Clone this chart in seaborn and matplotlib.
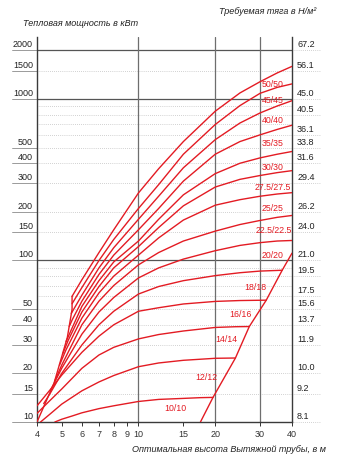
import matplotlib
matplotlib.use("Agg")
import matplotlib.pyplot as plt
import matplotlib.transforms as mtransforms
import seaborn as sns
import pandas as pd

# ---------------- data ----------------
sizes = ["10/10", "12/12", "14/14", "16/16", "18/18", "20/20", "22.5/22.5",
         "25/25", "27.5/27.5", "30/30", "35/35", "40/40", "45/45", "50/50"]

h_10 = [4.7, 5, 5.5, 6, 7, 8, 10, 12, 15, 17.5, 19.6]
p_10 = [10, 10.4, 10.9, 11.4, 12.1, 12.6, 13.4, 13.8, 14.0, 14.15, 14.2]
h_12 = [4.13, 4.5, 5, 6, 7, 8, 10, 12, 15, 20, 24.0]
p_12 = [10, 11.2, 12.9, 15.6, 17.7, 19.4, 22, 23.2, 24.1, 24.8, 24.9]
h_14 = [4, 4.5, 5, 6, 7, 8, 10, 12, 15, 20, 24, 27.2]
p_14 = [11.3, 13.6, 16, 21.5, 26, 29, 32.7, 34.8, 36.6, 38.5, 38.9, 39.0]
h_16 = [4, 4.5, 5, 6, 7, 8, 10, 12, 15, 20, 25, 31.7]
p_16 = [12.6, 15.8, 19.5, 27, 34, 40, 48.5, 51, 53.8, 55.8, 56.5, 56.8]
h_18 = [4.25, 4.5, 5, 6, 7, 8, 10, 12, 15, 20, 25, 30, 36.6]
p_18 = [13, 15, 20, 30, 40, 48.5, 62, 69, 75, 80.6, 84, 86, 87]
h_20 = [4.5, 5, 6, 7, 8, 10, 12, 15, 20, 25, 30, 35, 40]
p_20 = [15.5, 21.5, 35, 48, 59, 78, 90, 102, 115, 124, 129, 132, 133]
h_225 = [4.7, 5, 6, 7, 8, 10, 12, 15, 20, 25, 30, 35, 40]
p_225 = [18, 22.5, 40, 56, 70, 94, 112, 132, 152, 167, 177, 185, 190]
h_25 = [4.9, 5.2, 6, 7, 8, 10, 12, 15, 20, 25, 30, 35, 40]
p_25 = [22.5, 28, 44, 63, 80, 108, 138, 178, 220, 238, 250, 258, 263]
h_275 = [5.05, 5.3, 6, 7, 8, 10, 12, 15, 20, 25, 30, 35, 40]
p_275 = [26.5, 32, 48, 69, 90, 122, 160, 218, 285, 318, 336, 350, 360]
h_30 = [5.2, 5.4, 6, 7, 8, 10, 12, 15, 20, 25, 30, 35, 40]
p_30 = [31.5, 36, 52, 75, 98, 132, 180, 255, 345, 400, 432, 455, 473]
h_35 = [5.35, 5.5, 6, 7, 8, 10, 12, 15, 20, 25, 30, 35, 40]
p_35 = [39, 43, 56, 82, 108, 155, 210, 310, 455, 545, 600, 648, 688]
h_40 = [5.45, 6, 7, 8, 10, 12, 15, 20, 25, 30, 35, 40]
p_40 = [47, 61, 90, 120, 180, 250, 375, 560, 710, 820, 905, 976]
h_45 = [5.49, 6, 7, 8, 10, 12, 15, 20, 25, 30, 35, 40]
p_45 = [54, 68, 100, 135, 210, 295, 455, 695, 910, 1085, 1180, 1240]
h_50 = [5.49, 6, 7, 8, 10, 12, 15, 20, 25, 30, 35, 40]
p_50 = [60, 76, 112, 155, 262, 370, 545, 840, 1090, 1280, 1450, 1592]

curve_h = [h_10, h_12, h_14, h_16, h_18, h_20, h_225, h_25, h_275, h_30, h_35, h_40, h_45, h_50]
curve_p = [p_10, p_12, p_14, p_16, p_18, p_20, p_225, p_25, p_275, p_30, p_35, p_40, p_45, p_50]

# boundary lines
left_bound_h = [4.0, 4.66, 5.26, 5.49, 5.49]
left_bound_p = [10, 17.3, 33.4, 49.8, 60]
right_bound_h = [17.5, 19.6, 24.0, 27.2, 31.7, 36.6, 40]
right_bound_p = [10, 14.2, 24.9, 39.0, 56.8, 87, 111]

# curve label positions
label_h = [13.9, 18.4, 22.1, 25.2, 28.8, 33.6, 34.0, 33.6, 33.6, 33.6, 33.6, 33.6, 33.6, 33.6]
label_p = [12.2, 18.8, 32.2, 46.5, 68.3, 107, 154, 210, 283, 376, 529, 739, 975, 1236]

# axis labels
x_ticks = [4, 5, 6, 7, 8, 9, 10, 15, 20, 30, 40]
left_levels = [2000, 1500, 1000, 500, 400, 300, 200, 150, 100, 50, 40, 30, 20, 15, 10]
right_levels = [2000, 1500, 1000, 800, 600, 500, 400, 300, 200, 150, 100, 80, 60, 50, 40, 30, 20, 15, 10]
right_labels = ["67.2", "56.1", "45.0", "40.5", "36.1", "33.8", "31.6", "29.4", "26.2", "24.0",
                "21.0", "19.5", "17.5", "15.6", "13.7", "11.9", "10.0", "9.2", "8.1"]
solid_levels = [2000, 1000, 100]
dotted_levels = [1500, 900, 800, 700, 600, 500, 400, 300, 200, 150,
                 90, 80, 70, 60, 50, 40, 30, 20, 15]
v_lines = [10, 20, 30]

# ---------------- figure ----------------
sns.set_theme(style="white")
plt.rcParams['font.family'] = ['Liberation Sans', 'DejaVu Sans']

RED = "#e31b23"
W, H = 342, 459
fig = plt.figure(figsize=(W / 100, H / 100), dpi=100)
L, R, B, T = 37, 292, 422, 37
ax = fig.add_axes([L / W, 1 - B / H, (R - L) / W, (B - T) / H])
ax.set_xscale("log")
ax.set_yscale("log")
ax.set_xlim(4, 40)
ax.set_ylim(10, 2420)

# grid
for lv in dotted_levels:
    ax.axhline(lv, color="#a8a8a8", lw=0.5, ls=(0, (1, 2)), zorder=1)
for lv in solid_levels:
    ax.axhline(lv, color="#555555", lw=0.9, zorder=1)
for xv in v_lines:
    ax.axvline(xv, color="#6e6e6e", lw=0.9, zorder=1)

# curves
rows = []
for s, hs, ps in zip(sizes, curve_h, curve_p):
    for h, p in zip(hs, ps):
        rows.append({"size": s, "height": h, "power": p})
df = pd.DataFrame(rows)
sns.lineplot(data=df, x="height", y="power", hue="size", units="size", estimator=None,
             sort=False, palette=[RED] * len(sizes), legend=False, lw=1.0, ax=ax, zorder=3)
bdf = pd.DataFrame({"height": left_bound_h + right_bound_h,
                    "power": left_bound_p + right_bound_p,
                    "part": ["left"] * len(left_bound_h) + ["right"] * len(right_bound_h)})
sns.lineplot(data=bdf, x="height", y="power", units="part", estimator=None, sort=False,
             color=RED, lw=1.0, ax=ax, zorder=3)

for s, lh, lp in zip(sizes, label_h, label_p):
    ax.text(lh, lp, s, color=RED, fontsize=6.3, ha="center", va="center", zorder=4)

# spines
for side in ["left", "right", "bottom"]:
    ax.spines[side].set_color("#3a3a3a")
    ax.spines[side].set_linewidth(1.0)
ax.spines["top"].set_visible(False)

# x ticks
ax.set_xticks(x_ticks)
ax.set_xticklabels([str(v) for v in x_ticks])
ax.xaxis.set_minor_locator(matplotlib.ticker.NullLocator())
ax.tick_params(axis="x", which="major", direction="out", length=3, width=0.7,
               colors="#333333", labelsize=6.5, pad=2.5, bottom=True)
ax.set_yticks([])
ax.yaxis.set_minor_locator(matplotlib.ticker.NullLocator())
ax.set_xlabel("")
ax.set_ylabel("")

# y labels
trans = mtransforms.blended_transform_factory(ax.transAxes, ax.transData)
ttxt = mtransforms.offset_copy(trans, fig=fig, x=0, y=5.5, units="dots")
for lv in left_levels:
    ax.text(-0.016, lv, str(lv), transform=ttxt, ha="right", va="center",
            fontsize=6.5, color="#222222", clip_on=False)
    ax.plot([-0.098, 0], [lv, lv], transform=trans, color="#8a8a8a", lw=0.6,
            clip_on=False, zorder=1)
for lv, lab in zip(right_levels, right_labels):
    ax.text(1.02, lv, lab, transform=ttxt, ha="left", va="center",
            fontsize=6.5, color="#222222", clip_on=False)
    ax.plot([1.0, 1.115], [lv, lv], transform=trans, color="#a8a8a8", lw=0.5,
            ls=(0, (1, 2)), clip_on=False, zorder=1)

# titles
fig.text(23 / W, 1 - 23 / H, "Тепловая мощность в кВт", fontsize=6.5, style="italic",
         ha="left", va="center", color="#222222")
fig.text(316 / W, 1 - 12 / H, "Требуемая тяга в Н/м²", fontsize=6.5, style="italic",
         ha="right", va="center", color="#222222")
fig.text(326 / W, 1 - 449 / H, "Оптимальная высота Вытяжной трубы, в м", fontsize=6.5,
         style="italic", ha="right", va="center", color="#222222")

fig.savefig("out.png", dpi=100)
